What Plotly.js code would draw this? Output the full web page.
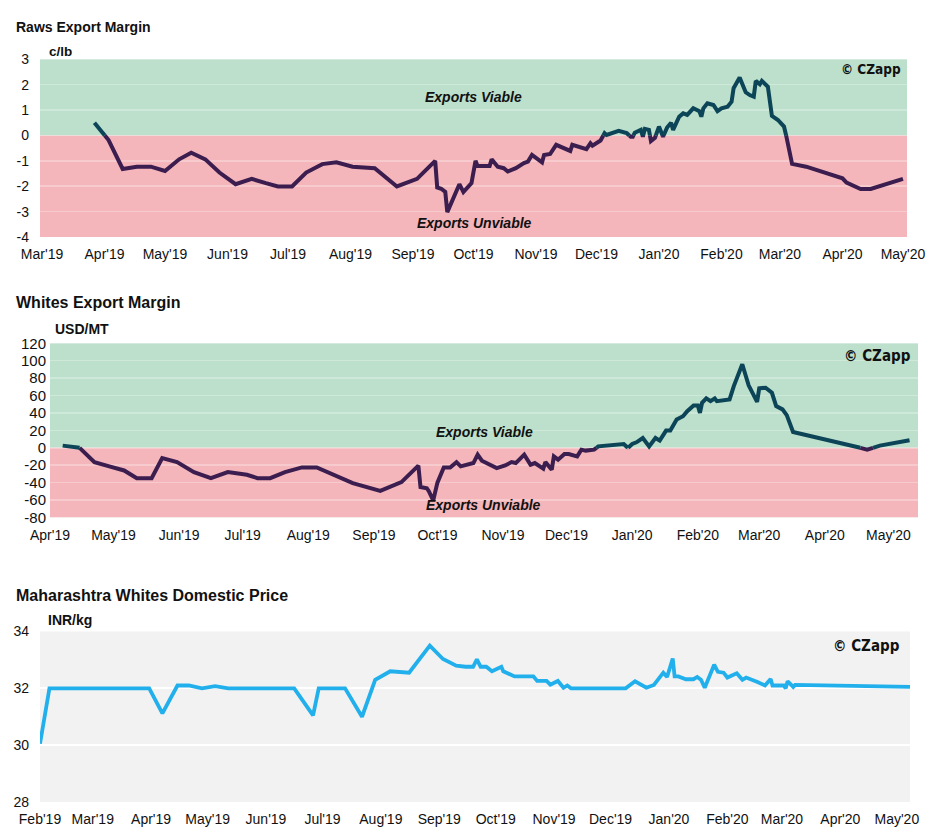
<!DOCTYPE html>
<html><head><meta charset="utf-8">
<script src="https://cdn.plot.ly/plotly-3.0.1.min.js"></script>
<style>html,body{margin:0;padding:0;background:#fff}#chart{width:936px;height:838px}</style>
</head><body><div id="chart"></div>
<script>
// ---- Raws Export Margin (c/lb)
const rawsDates = ['2019-03-27','2019-04-03','2019-04-10','2019-04-17','2019-04-24','2019-05-01','2019-05-08','2019-05-14','2019-05-21','2019-05-28',
 '2019-06-05','2019-06-13','2019-06-20','2019-06-26','2019-07-03','2019-07-10','2019-07-18','2019-07-25','2019-08-02','2019-08-13',
 '2019-08-24','2019-09-03','2019-09-12','2019-09-13','2019-09-15','2019-09-17','2019-09-18','2019-09-24','2019-09-26','2019-09-30',
 '2019-10-02','2019-10-03','2019-10-09','2019-10-10','2019-10-13','2019-10-16','2019-10-18','2019-10-22','2019-10-26','2019-10-28',
 '2019-10-30','2019-11-01','2019-11-04','2019-11-05','2019-11-08','2019-11-11','2019-11-15','2019-11-18','2019-11-19','2019-11-22',
 '2019-11-26','2019-11-28','2019-11-29','2019-12-03','2019-12-05','2019-12-06','2019-12-09','2019-12-12','2019-12-16','2019-12-18',
 '2019-12-19','2019-12-20','2019-12-23','2019-12-24','2019-12-25','2019-12-27','2019-12-28','2019-12-30','2020-01-01','2020-01-03',
 '2020-01-05','2020-01-07','2020-01-08','2020-01-11','2020-01-13','2020-01-15','2020-01-18','2020-01-21','2020-01-22','2020-01-23',
 '2020-01-25','2020-01-28','2020-01-30','2020-02-01','2020-02-04','2020-02-06','2020-02-07','2020-02-10','2020-02-13','2020-02-15',
 '2020-02-17','2020-02-18','2020-02-20','2020-02-21','2020-02-24','2020-02-26','2020-02-29','2020-03-03','2020-03-04','2020-03-07',
 '2020-03-14','2020-03-24','2020-04-01','2020-04-03','2020-04-10','2020-04-15','2020-05-01'];
const rawsValues = [0.50,-0.18,-1.32,-1.23,-1.23,-1.40,-0.94,-0.68,-0.94,-1.46,
 -1.92,-1.71,-1.88,-2.01,-2.01,-1.46,-1.13,-1.06,-1.23,-1.29,
 -2.01,-1.71,-1.00,-2.05,-2.10,-2.22,-3.02,-1.92,-2.23,-1.88,
 -1.00,-1.20,-1.20,-0.94,-1.23,-1.29,-1.42,-1.29,-1.09,-1.03,
 -0.77,-0.90,-1.06,-0.77,-0.73,-0.37,-0.53,-0.61,-0.37,-0.44,
 -0.54,-0.31,-0.40,-0.20,0.09,0.02,0.09,0.18,0.09,-0.05,
 -0.05,0.11,0.22,-0.05,0.26,0.22,-0.22,-0.09,0.35,-0.05,
 0.31,0.50,0.22,0.74,0.87,0.81,1.07,0.96,0.74,1.07,
 1.27,1.20,0.96,1.07,1.13,1.33,1.86,2.28,1.70,1.59,
 1.53,2.15,2.02,2.15,1.92,0.77,0.61,0.35,0.02,-1.12,
 -1.23,-1.49,-1.69,-1.86,-2.11,-2.11,-1.71];

// ---- Whites Export Margin (USD/MT)
const whitesDates = ['2019-04-07','2019-04-15','2019-04-22','2019-04-29','2019-05-06','2019-05-12','2019-05-19','2019-05-24','2019-05-31','2019-06-08',
 '2019-06-16','2019-06-24','2019-07-03','2019-07-08','2019-07-14','2019-07-21','2019-07-29','2019-08-05','2019-08-13','2019-08-22',
 '2019-09-04','2019-09-14','2019-09-22','2019-09-23','2019-09-26','2019-09-27','2019-09-29','2019-10-01','2019-10-04','2019-10-07',
 '2019-10-10','2019-10-12','2019-10-18','2019-10-20','2019-10-22','2019-10-25','2019-10-29','2019-11-02','2019-11-05','2019-11-07',
 '2019-11-11','2019-11-14','2019-11-16','2019-11-20','2019-11-21','2019-11-24','2019-11-25','2019-11-27','2019-11-30','2019-12-02',
 '2019-12-06','2019-12-08','2019-12-10','2019-12-14','2019-12-16','2019-12-28','2019-12-30','2020-01-01','2020-01-03','2020-01-06',
 '2020-01-09','2020-01-12','2020-01-14','2020-01-17','2020-01-19','2020-01-22','2020-01-25','2020-01-27','2020-01-30','2020-02-01',
 '2020-02-02','2020-02-03','2020-02-05','2020-02-07','2020-02-09','2020-02-10','2020-02-16','2020-02-18','2020-02-22','2020-02-25',
 '2020-02-29','2020-03-01','2020-03-04','2020-03-07','2020-03-09','2020-03-12','2020-03-14','2020-03-17','2020-03-19','2020-04-12',
 '2020-04-21','2020-04-27','2020-05-11'];
const whitesValues = [2.5,0,-16.4,-21.3,-26,-34.8,-34.8,-11.8,-16.4,-27.9,
 -34.8,-27.9,-30.9,-34.8,-34.8,-27.9,-22.5,-22.5,-30.9,-40.6,
 -49.4,-39.4,-20.4,-45,-46.4,-50,-60.5,-40,-22.5,-22.5,
 -16.4,-21.3,-17.5,-7.8,-14.8,-18.7,-23.3,-20.2,-16.4,-17.5,
 -7.8,-19.4,-17.5,-24,-16.4,-25.1,-9.8,-13.6,-7.2,-7.2,
 -9.8,-2.1,-3.2,-2.1,1.7,4.4,-0.2,4.4,6.3,11.3,
 1.7,11.3,8.3,19.8,19.8,32.5,36.3,42.1,48.7,48.7,
 40.1,51.7,56.7,53.6,56.7,53.6,55.6,70.9,96,71.7,
 52.8,68.3,69,63.2,47.9,44.1,37.5,18.2,17.1,3.7,
 -2.1,2.5,8.7];

// ---- Maharashtra Whites Domestic Price (INR/kg)
const mahaDates = ['2019-02-01','2019-02-06','2019-03-31','2019-04-07','2019-04-15','2019-04-21','2019-04-28','2019-05-05','2019-05-12','2019-06-16',
 '2019-06-26','2019-06-29','2019-07-13','2019-07-22','2019-07-29','2019-08-06','2019-08-16','2019-08-27','2019-09-03','2019-09-10',
 '2019-09-15','2019-09-19','2019-09-21','2019-09-23','2019-09-26','2019-09-29','2019-10-04','2019-10-05','2019-10-11','2019-10-21',
 '2019-10-23','2019-10-28','2019-10-30','2019-11-03','2019-11-06','2019-11-08','2019-11-10','2019-12-09','2019-12-14','2019-12-20',
 '2019-12-24','2019-12-28','2019-12-29','2019-12-31','2020-01-03','2020-01-04','2020-01-06','2020-01-10','2020-01-14','2020-01-16',
 '2020-01-18','2020-01-20','2020-01-25','2020-01-27','2020-01-30','2020-02-01','2020-02-06','2020-02-09','2020-02-11','2020-02-17',
 '2020-02-21','2020-02-24','2020-02-25','2020-03-02','2020-03-03','2020-03-04','2020-03-07','2020-03-08','2020-05-08'];
const mahaValues = [30.05,32.0,32.0,31.12,32.1,32.1,32.0,32.08,32.0,32.0,
 31.05,32.0,32.0,31.0,32.3,32.6,32.55,33.5,33.03,32.8,
 32.76,32.76,33.02,32.76,32.76,32.6,32.76,32.6,32.42,32.42,
 32.26,32.26,32.13,32.26,32.02,32.1,32.0,32.0,32.25,32.02,
 32.12,32.5,32.55,32.4,33.05,32.42,32.42,32.32,32.32,32.4,
 32.3,32.02,32.83,32.58,32.55,32.38,32.53,32.3,32.38,32.22,
 32.1,32.33,32.1,32.1,32.0,32.25,32.05,32.12,32.05];

const rawsTicks = [-4,-3,-2,-1,0,1,2,3];
const whitesTicks = [-80,-60,-40,-20,0,20,40,60,80,100,120];
const mahaTicks = [28,30,32,34];

function toMs(s){const p=s.split('-');return Date.UTC(+p[0],+p[1]-1,+p[2]);}
function fmt(ms){const d=new Date(ms);const z=n=>String(n).padStart(2,'0');
  return d.getUTCFullYear()+'-'+z(d.getUTCMonth()+1)+'-'+z(d.getUTCDate())+' '+z(d.getUTCHours())+':'+z(d.getUTCMinutes())+':'+z(d.getUTCSeconds());}
function splitBySign(dates, vals){
  const pos={x:[],y:[]}, neg={x:[],y:[]};
  let cur = vals[0]>=0?pos:neg;
  cur.x.push(dates[0]); cur.y.push(vals[0]);
  for(let i=1;i<dates.length;i++){
    const y0=vals[i-1], y1=vals[i];
    if((y0>=0)!==(y1>=0)){
      const x0=toMs(dates[i-1]), x1=toMs(dates[i]);
      const xc=fmt(x0+(y0/(y0-y1))*(x1-x0));
      cur.x.push(xc,null); cur.y.push(0,null);
      cur = y1>=0?pos:neg;
      cur.x.push(xc); cur.y.push(0);
    }
    cur.x.push(dates[i]); cur.y.push(y1);
  }
  return {pos,neg};
}

const POS='#0c4458', NEG='#3b1e4f', BLUE='#22b0ec';
const rs = splitBySign(rawsDates, rawsValues);
const ws = splitBySign(whitesDates, whitesValues);
const W=936, H=838;
const px = v => v/W, py = v => 1 - v/H;

const traces = [
  {x:rs.neg.x,y:rs.neg.y,xaxis:'x',yaxis:'y',mode:'lines',line:{color:NEG,width:4},hoverinfo:'skip'},
  {x:rs.pos.x,y:rs.pos.y,xaxis:'x',yaxis:'y',mode:'lines',line:{color:POS,width:4},hoverinfo:'skip'},
  {x:ws.neg.x,y:ws.neg.y,xaxis:'x2',yaxis:'y2',mode:'lines',line:{color:NEG,width:4},hoverinfo:'skip'},
  {x:ws.pos.x,y:ws.pos.y,xaxis:'x2',yaxis:'y2',mode:'lines',line:{color:POS,width:4},hoverinfo:'skip'},
  {x:mahaDates,y:mahaValues,xaxis:'x3',yaxis:'y3',mode:'lines',line:{color:BLUE,width:3.8},hoverinfo:'skip'}
];

const FONT = 'Liberation Sans, Arial, Helvetica, sans-serif';
const xCommon = {type:'date',dtick:'M1',tickformat:"%b'%y",showgrid:false,zeroline:false,showline:false,ticks:'',
  tickfont:{family:FONT,size:14,color:'#111'},ticklabelstandoff:7,fixedrange:true};
const yCommon = {zeroline:false,showline:false,ticks:'',tickmode:'array',tickfont:{family:FONT,size:14,color:'#111'},fixedrange:true};

const layout = {
  width:W,height:H,margin:{l:0,r:0,t:0,b:0},showlegend:false,
  paper_bgcolor:'#ffffff',plot_bgcolor:'#f2f2f2',
  font:{family:FONT},
  xaxis:Object.assign({},xCommon,{domain:[px(40),px(907)],anchor:'y',range:['2019-02-28','2020-05-03'],tick0:'2019-03-01'}),
  yaxis:Object.assign({},yCommon,{domain:[py(237),py(59.3)],anchor:'x',range:[-4,3],tickvals:rawsTicks,ticktext:rawsTicks.map(String),
    gridcolor:'rgba(255,255,255,0.28)',gridwidth:1.5,ticklabelstandoff:10}),
  xaxis2:Object.assign({},xCommon,{domain:[px(50),px(918)],anchor:'y2',range:['2019-04-01','2020-05-15'],tick0:'2019-04-01'}),
  yaxis2:Object.assign({},yCommon,{domain:[py(517.5),py(343.3)],anchor:'x2',range:[-80,120],tickvals:whitesTicks,ticktext:whitesTicks.map(String),
    tickfont:{family:FONT,size:15,color:'#111'},gridcolor:'rgba(255,255,255,0.28)',gridwidth:1.5,ticklabelstandoff:3}),
  xaxis3:Object.assign({},xCommon,{domain:[px(40),px(910)],anchor:'y3',range:['2019-02-01','2020-05-08'],tick0:'2019-02-01'}),
  yaxis3:Object.assign({},yCommon,{domain:[py(802),py(631.5)],anchor:'x3',range:[28,34],tickvals:mahaTicks,ticktext:mahaTicks.map(String),
    gridcolor:'#ffffff',gridwidth:2,ticklabelstandoff:10}),
  shapes:[
    {type:'rect',xref:'x domain',yref:'y',x0:0,x1:1,y0:0,y1:3,fillcolor:'#bce0cb',line:{width:0},layer:'below'},
    {type:'rect',xref:'x domain',yref:'y',x0:0,x1:1,y0:-4,y1:0,fillcolor:'#f4b6ba',line:{width:0},layer:'below'},
    {type:'rect',xref:'x2 domain',yref:'y2',x0:0,x1:1,y0:0,y1:120,fillcolor:'#bce0cb',line:{width:0},layer:'below'},
    {type:'rect',xref:'x2 domain',yref:'y2',x0:0,x1:1,y0:-80,y1:0,fillcolor:'#f4b6ba',line:{width:0},layer:'below'}
  ],
  annotations:[]
};

function ann(text,x,y,size,opts){
  layout.annotations.push(Object.assign({text:text,xref:'paper',yref:'paper',x:px(x),y:py(y),xanchor:'left',yanchor:'middle',
    showarrow:false,font:{family:FONT,size:size,color:'#111'}},opts||{}));
}
const CZ = 'DejaVu Sans Condensed, Liberation Sans Narrow, sans-serif';
ann('<b>Raws Export Margin</b>',14,27,14);
ann('<b>c/lb</b>',47,52,13.5);
ann('<b><i>Exports Viable</i></b>',473.5,97.3,14,{xanchor:'center'});
ann('<b><i>Exports Unviable</i></b>',474.3,223.3,14,{xanchor:'center'});
ann('<b>© CZapp</b>',903,68.5,13.5,{xanchor:'right',font:{family:CZ,size:13.5,color:'#111'}});

ann('<b>Whites Export Margin</b>',14,302,16);
ann('<b>USD/MT</b>',53,329,14);
ann('<b><i>Exports Viable</i></b>',484.7,432.3,14,{xanchor:'center'});
ann('<b><i>Exports Unviable</i></b>',483.8,505,14,{xanchor:'center'});
ann('<b>© CZapp</b>',913,355.7,15,{xanchor:'right',font:{family:CZ,size:15,color:'#111'}});

ann('<b>Maharashtra Whites Domestic Price</b>',14,595,16);
ann('<b>INR/kg</b>',46,620,14);
ann('<b>© CZapp</b>',902,645.7,15,{xanchor:'right',font:{family:CZ,size:15,color:'#111'}});

Plotly.newPlot('chart',traces,layout,{staticPlot:true,displayModeBar:false});
</script>
</body></html>
